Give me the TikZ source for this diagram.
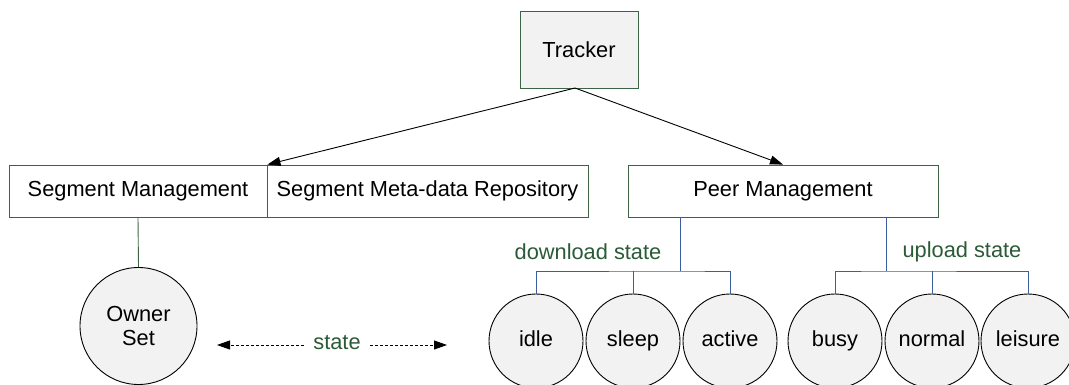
\documentclass[tikz,border=0pt]{standalone}
\usepackage{fontspec}
\setmainfont{Liberation Sans}
\usetikzlibrary{math,arrows.meta}

\definecolor{boxgreen}{HTML}{3E6344}
\definecolor{textgreen}{HTML}{2A5A36}
\definecolor{treeblue}{HTML}{3C5E9C}
\definecolor{lightfill}{HTML}{F2F2F2}

\begin{document}
\begin{tikzpicture}[x=1pt, y=-1pt, line width=0.9pt,
  font=\fontsize{21.8}{25}\selectfont,
  box/.style={draw=boxgreen, rectangle, inner sep=0pt, minimum height=52pt},
  state/.style={draw=black, circle, fill=lightfill, inner sep=0pt, minimum size=94pt},
  word/.style={text height=16pt, text depth=5pt},
  label/.style={text=textgreen, inner sep=0pt},
  tree/.style={draw=treeblue},
  tip/.style={-{Triangle[length=13pt,width=9pt]}}]
  \tikzmath{%
    \sy = 191; \cy = 341; \fy = 271;
    \dx = 97;
  }
  \useasboundingbox (0,0) rectangle (1069,385);

  \node[box, fill=lightfill, minimum width=118pt, minimum height=77pt] (tracker) at (579,49.5) {Tracker};
  \node[box, minimum width=258pt] (segman) at (138,\sy) {Segment Management};
  \node[box, minimum width=321pt] (segmeta) at (427.5,\sy) {Segment Meta-data Repository};
  \node[box, minimum width=310pt] (peerman) at (783,\sy) {Peer Management};

  \coordinate (trackerfoot) at (575,88);
  \draw[tip] (trackerfoot) -- (segman.north east);
  \draw[tip] (trackerfoot) -- (peerman.north);

  \node[state, minimum size=117pt, align=center] (owner) at (138.5,326) {Owner\\[-1pt]Set};
  \draw[boxgreen] (segman.south) -- (owner.north);

  \node[state, word] (idle) at (536,\cy) {idle};
  \node[state, word] (sleep) at (536+\dx,\cy) {sleep};
  \node[state, word] (active) at (536+2*\dx,\cy) {active};
  \node[state, word] (busy) at (835,\cy) {busy};
  \node[state, word] (normal) at (835+\dx,\cy) {normal};
  \node[state, word] (leisure) at (835+2*\dx-1,\cy) {leisure};

  \coordinate (dlfork) at (680,\fy);
  \coordinate (ulfork) at (886,\fy);
  \draw[tree] (peerman.south -| dlfork) -- (dlfork);
  \draw[tree] (idle.north) |- (dlfork) -| (active.north);
  \draw[tree] (sleep.north) -- (sleep.north |- dlfork);
  \draw[tree] (peerman.south -| ulfork) -- (ulfork);
  \draw[tree] (busy.north) |- (ulfork) -| (leisure.north);
  \draw[tree] (normal.north) -- (normal.north |- ulfork);

  \node[label] (dllabel) at (588,252) {download state};
  \node[label] (ullabel) at (962,252) {upload state};

  \node[label, inner xsep=9pt] (statelabel) at (337,343) {state};
  \coordinate (stateleft) at (217,345);
  \coordinate (stateright) at (447,345);
  \draw[tip, dash pattern=on 3pt off 2pt] (statelabel.west |- stateleft) -- (stateleft);
  \draw[tip, dash pattern=on 3pt off 2pt] (statelabel.east |- stateright) -- (stateright);
\end{tikzpicture}
\end{document}
